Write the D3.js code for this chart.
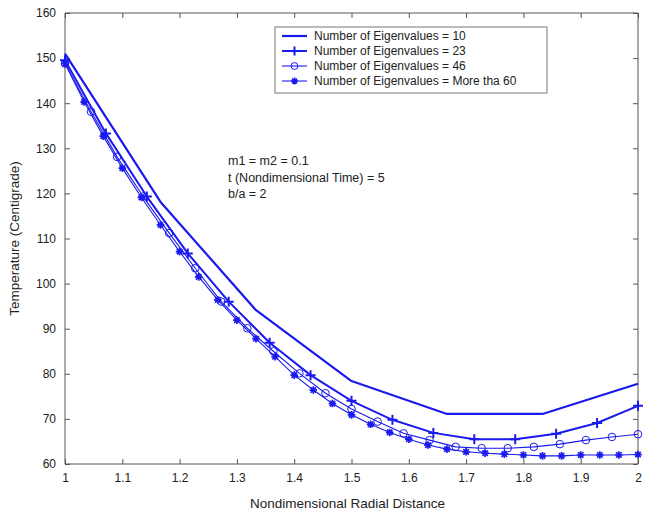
<!DOCTYPE html>
<html>
<head>
<meta charset="utf-8">
<script src="https://cdn.jsdelivr.net/npm/d3@7"></script>
<style>
  html, body { margin: 0; padding: 0; background: #fff; }
  svg { display: block; }
  text { font-family: "Liberation Sans", Arial, Helvetica, sans-serif; fill: #222; }
</style>
</head>
<body>
<div id="chart"></div>
<script>
// Temperature along the radial distance for several eigenvalue truncations
const xTicks = [1, 1.1, 1.2, 1.3, 1.4, 1.5, 1.6, 1.7, 1.8, 1.9, 2];
const yTicks = [60, 70, 80, 90, 100, 110, 120, 130, 140, 150, 160];

// N = 10, sampled every 1/6
const x10 = [1, 7/6, 8/6, 9/6, 10/6, 11/6, 2];
const t10 = [151.0, 118.1, 94.1, 78.4, 71.1, 71.1, 77.8];

// N = 23, sampled every 1/14
const x23 = d3.range(15).map(k => 1 + k / 14);
const t23 = [149.5, 133.3, 119.3, 106.7, 96.0, 86.9, 79.7, 74.0, 69.8, 66.9, 65.5, 65.5, 66.7, 69.1, 72.9];

// N = 46, sampled every 1/22
const x46 = d3.range(23).map(k => 1 + k / 22);
const t46 = [148.8, 138.1, 128.1, 119.3, 111.2, 103.4, 96.0, 90.1, 85.0, 80.1, 75.7, 72.2, 69.4,
             66.8, 65.3, 63.8, 63.5, 63.5, 63.8, 64.4, 65.3, 66.0, 66.6];

// N > 60, sampled every 1/30
const x60 = d3.range(31).map(k => 1 + k / 30);
const t60 = [148.8, 140.3, 132.7, 125.6, 119.1, 113.0, 107.1, 101.5, 96.4, 91.9, 87.8, 83.8, 79.7,
             76.4, 73.4, 70.9, 68.8, 67.0, 65.5, 64.2, 63.3, 62.7, 62.4, 62.2, 62.0, 61.8, 61.8,
             62.0, 62.0, 62.0, 62.1];

const legendLabels = [
  "Number of Eigenvalues = 10",
  "Number of Eigenvalues = 23",
  "Number of Eigenvalues = 46",
  "Number of Eigenvalues = More tha 60"
];
const noteLines = ["m1 = m2 = 0.1", "t (Nondimensional Time) = 5", "b/a = 2"];

const W = 645, H = 515;
const margin = { left: 65, top: 13, right: 7, bottom: 51 };
const iw = W - margin.left - margin.right;
const ih = H - margin.top - margin.bottom;

const svg = d3.select("#chart").append("svg").attr("width", W).attr("height", H);
const g = svg.append("g").attr("transform", `translate(${margin.left},${margin.top})`);

const x = d3.scaleLinear().domain([1, 2]).range([0, iw]);
const y = d3.scaleLinear().domain([60, 160]).range([ih, 0]);

const axisColor = "#555";
const tickLen = 5;

// Axes with inward ticks on all four sides
const axBottom = g.append("g").attr("transform", `translate(0,${ih})`)
  .call(d3.axisBottom(x).tickValues(xTicks).tickSizeInner(-tickLen).tickSizeOuter(0).tickPadding(9)
    .tickFormat(d3.format("~g")));
const axLeft = g.append("g")
  .call(d3.axisLeft(y).tickValues(yTicks).tickSizeInner(-tickLen).tickSizeOuter(0).tickPadding(9));
const axTop = g.append("g")
  .call(d3.axisTop(x).tickValues(xTicks).tickSizeInner(-tickLen).tickSizeOuter(0).tickFormat(""));
const axRight = g.append("g").attr("transform", `translate(${iw},0)`)
  .call(d3.axisRight(y).tickValues(yTicks).tickSizeInner(-tickLen).tickSizeOuter(0).tickFormat(""));

[axBottom, axLeft, axTop, axRight].forEach(a => {
  a.selectAll(".domain").attr("stroke", axisColor);
  a.selectAll(".tick line").attr("stroke", axisColor);
  a.selectAll(".tick text").attr("font-size", 12).attr("fill", "#222")
    .attr("font-family", "'Liberation Sans', Arial, sans-serif");
});
axBottom.selectAll(".domain").attr("d", `M0,0H${iw}`);
axTop.selectAll(".domain").attr("d", `M0,0H${iw}`);
axLeft.selectAll(".domain").attr("d", `M0,0V${ih}`);
axRight.selectAll(".domain").attr("d", `M0,0V${ih}`);

// Axis titles
svg.append("text")
  .attr("x", margin.left + iw / 2 - 4).attr("y", H - 7)
  .attr("text-anchor", "middle").attr("font-size", 13.5)
  .text("Nondimensional Radial Distance");
svg.append("text")
  .attr("transform", `translate(19,${margin.top + ih / 2}) rotate(-90)`)
  .attr("text-anchor", "middle").attr("font-size", 13.5)
  .text("Temperature (Centigrade)");

const blue = "#1a1aee";
const line = d3.line().x(d => x(d[0])).y(d => y(d[1]));

const series = [
  { xs: x10, ys: t10, width: 2.2, marker: null },
  { xs: x23, ys: t23, width: 2.0, marker: "plus" },
  { xs: x46, ys: t46, width: 1.1, marker: "circle" },
  { xs: x60, ys: t60, width: 1.1, marker: "star" }
];

function markerPath(type, r) {
  if (type === "plus") return `M${-r},0H${r}M0,${-r}V${r}`;
  if (type === "star") {
    const d = r * 0.72;
    return `M${-r},0H${r}M0,${-r}V${r}M${-d},${-d}L${d},${d}M${-d},${d}L${d},${-d}`;
  }
  return "";
}

function drawMarker(sel, type, cx, cy, scale) {
  const s = scale || 1;
  if (type === "circle") {
    sel.append("circle").attr("cx", cx).attr("cy", cy).attr("r", 3.8 * s)
      .attr("fill", "none").attr("stroke", blue).attr("stroke-width", 1);
  } else if (type === "plus") {
    sel.append("path").attr("transform", `translate(${cx},${cy})`)
      .attr("d", markerPath("plus", 5 * s)).attr("stroke", blue).attr("stroke-width", 2);
  } else if (type === "star") {
    sel.append("path").attr("transform", `translate(${cx},${cy})`)
      .attr("d", markerPath("star", 3.8 * s)).attr("stroke", blue).attr("stroke-width", 1.7);
  }
}

const plot = g.append("g");
series.forEach(s => {
  const pts = s.xs.map((v, i) => [v, s.ys[i]]);
  plot.append("path").datum(pts).attr("d", line)
    .attr("fill", "none").attr("stroke", blue).attr("stroke-width", s.width)
    .attr("stroke-linejoin", "round");
  if (s.marker) {
    const mg = plot.append("g");
    pts.forEach(p => drawMarker(mg, s.marker, x(p[0]), y(p[1])));
  }
});

// Legend
const lg = svg.append("g").attr("transform", "translate(275,27)");
lg.append("rect").attr("width", 272).attr("height", 66)
  .attr("fill", "#fff").attr("stroke", "#777").attr("stroke-width", 1);
legendLabels.forEach((lab, i) => {
  const cy = 9 + i * 15;
  const row = lg.append("g");
  row.append("line").attr("x1", 7).attr("x2", 32).attr("y1", cy).attr("y2", cy)
    .attr("stroke", blue).attr("stroke-width", series[i].width);
  if (series[i].marker) drawMarker(row, series[i].marker, 19.5, cy, 0.9);
  row.append("text").attr("x", 39).attr("y", cy + 4.3).attr("font-size", 12).text(lab);
});

// Parameter notes
const notes = svg.append("g");
noteLines.forEach((t, i) => {
  notes.append("text").attr("x", 228).attr("y", 165 + i * 16.5).attr("font-size", 12.5).text(t);
});
</script>
</body>
</html>
